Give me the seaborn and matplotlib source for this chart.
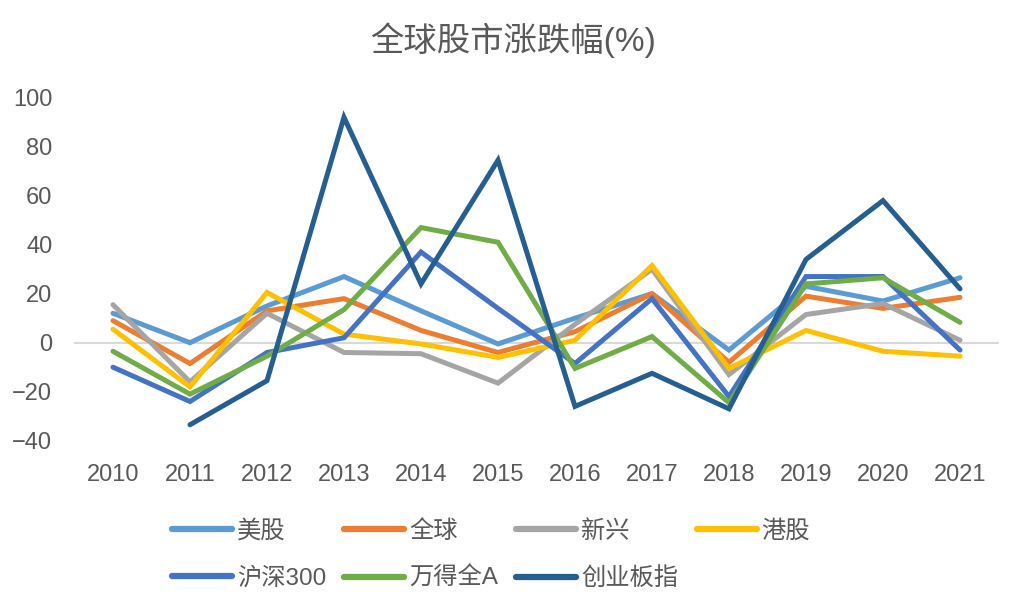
import numpy as np
import pandas as pd
import matplotlib
matplotlib.use('Agg')
import matplotlib.pyplot as plt
import seaborn as sns

years = list(range(2010, 2022))
series_names = ['美股', '全球', '新兴', '港股', '沪深300', '万得全A', '创业板指']

us = [12, 0, 15, 27, 13, -0.5, 10, 20, -3, 23, 17, 26.5]
world = [9, -8.5, 13, 18, 5, -4, 4.5, 20, -8, 19, 14, 18.5]
emerging = [15.5, -16, 12, -4, -4.5, -16.5, 7.5, 30, -13, 11.5, 16, 1]
hk = [5.5, -18, 20.5, 3.5, -0.5, -6, 1, 31.5, -10.5, 5, -3.5, -5.5]
csi300 = [-10, -24, -4, 2, 37, 14, -8.5, 18, -22, 27, 27, -3]
wind_a = [-3.5, -21, -5.5, 13.5, 47, 41, -10.5, 2.5, -24.5, 24, 26.5, 8.3]
chinext = [np.nan, -33.5, -15.5, 92, 24, 74.5, -26, -12.5, -27, 34, 58, 22]

colors = ['#5B9BD5', '#ED7D31', '#A5A5A5', '#FFC000', '#4472C4', '#70AD47', '#255E91']

values = [us, world, emerging, hk, csi300, wind_a, chinext]
rows = []
for name, vals in zip(series_names, values):
    for y, v in zip(years, vals):
        rows.append({'年份': y, '系列': name, '涨跌幅': v})
df = pd.DataFrame(rows).dropna()

sns.set_style('white')
plt.rcParams['font.family'] = ['Liberation Sans', 'Noto Sans CJK SC', 'DejaVu Sans']
text_color = '#595959'

fig = plt.figure(figsize=(10.26, 6.04), dpi=100)
ax = fig.add_axes([0.0726, 0.2704, 0.9006, 0.5678])

ax.axhline(0, color='#D9D9D9', lw=1.5, zorder=0)
sns.lineplot(data=df, x='年份', y='涨跌幅', hue='系列', hue_order=series_names,
             palette=colors, linewidth=3.6, ax=ax, legend=True,
             solid_capstyle='round', solid_joinstyle='miter')

ax.set_xlim(2009.5, 2021.5)
ax.set_ylim(-40, 100)
ax.set_xticks(years)
ax.set_yticks(range(-40, 101, 20))
ax.set_xlabel('')
ax.set_ylabel('')
for s in ax.spines.values():
    s.set_visible(False)
ax.tick_params(axis='x', length=0, pad=17, labelsize=17, labelcolor=text_color)
ax.tick_params(axis='y', length=0, pad=16, labelsize=17, labelcolor=text_color)

fig.suptitle('全球股市涨跌幅(%)', x=0.5, y=1 - 40 / 604, va='center',
             fontsize=24, color=text_color)

handles, labels = ax.get_legend_handles_labels()
ax.get_legend().remove()
for h in handles:
    h.set_linewidth(4.5)
    h.set_solid_capstyle('round')
# matplotlib fills legend columns first; reorder so entries read row by row
order = [0, 4, 1, 5, 2, 6, 3]
handles = [handles[i] for i in order]
labels = [labels[i] for i in order]
leg = fig.legend(handles, labels, ncol=4, loc='upper left',
                 bbox_to_anchor=(172 / 1026, 1 - 520 / 604),
                 frameon=False, fontsize=17.5, handlelength=2.47,
                 handletextpad=0.2, columnspacing=0.75, labelspacing=1.0,
                 borderpad=0, borderaxespad=0)
for t in leg.get_texts():
    t.set_color(text_color)

fig.savefig('out.png', dpi=100)
